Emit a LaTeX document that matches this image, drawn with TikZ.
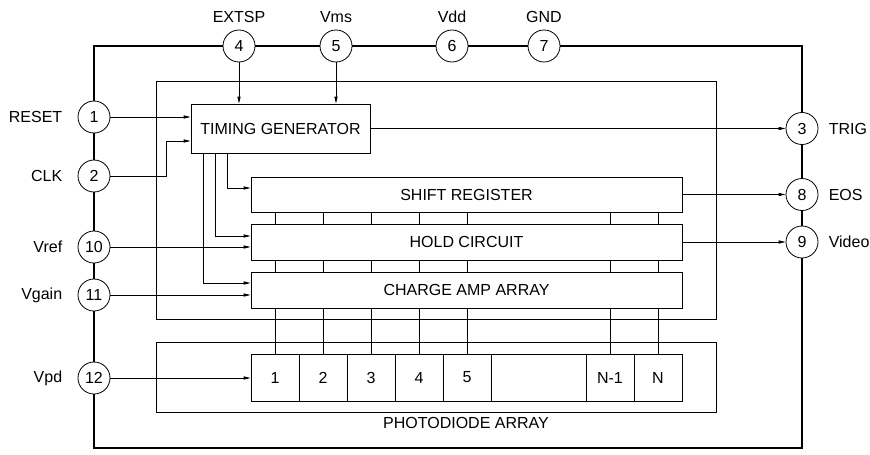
\documentclass[tikz,border=0pt]{standalone}
\usepackage{fontspec}
\setmainfont{Liberation Sans}
\usetikzlibrary{arrows.meta,positioning}

\tikzset{
  pin/.style={circle, draw, fill=white, minimum size=32pt, inner sep=0pt},
  blk/.style={draw, fill=white, inner sep=0pt},
  bus/.style={blk, minimum width=431pt},
  cell/.style={blk, minimum width=48pt, minimum height=47pt},
  sig/.style={-{Triangle[length=7pt,width=3.2pt]}},
  lbl/.style={inner sep=0pt},
}

\begin{document}
\begin{tikzpicture}[x=1pt,y=-1pt,font=\fontsize{16}{19}\selectfont,line width=0.8pt]
        \useasboundingbox (0,0) rectangle (870,455);
        % package outline
        \draw[line width=2.2pt] (94,46) rectangle (802,448);
        % chip area and photodiode area
        \draw (156,81) rectangle (716,319);
        \draw (156,342) rectangle (716,412);
        \node[lbl] (pdlbl) at (466,423) {PHOTODIODE ARRAY};

        % pins
        \node[pin] (p4) at (239,46) {4};
        \node[pin] (p5) at (336,46) {5};
        \node[pin] (p6) at (452,46) {6};
        \node[pin] (p7) at (544,46) {7};
        \node[pin] (p1) at (94,117) {1};
        \node[pin] (p2) at (94,176) {2};
        \node[pin] (p10) at (94,247) {10};
        \node[pin] (p11) at (94,295) {11};
        \node[pin] (p12) at (94,378) {12};
        \node[pin] (p3) at (802,128.5) {3};
        \node[pin] (p8) at (802,194.5) {8};
        \node[pin] (p9) at (802,242) {9};

        % pin names
        \node[lbl, above=7pt of p4] {EXTSP};
        \node[lbl, above=7pt of p5] {Vms};
        \node[lbl, above=7pt of p6] {Vdd};
        \node[lbl, above=7pt of p7] {GND};
        \node[lbl, left=15pt of p1] {RESET};
        \node[lbl, left=15pt of p2] {CLK};
        \node[lbl, left=15pt of p10] {Vref};
        \node[lbl, left=15pt of p11] {Vgain};
        \node[lbl, left=15pt of p12] {Vpd};
        \node[lbl, right=10pt of p3] {TRIG};
        \node[lbl, right=10pt of p8] {EOS};
        \node[lbl, right=10pt of p9] {Video};

        % blocks
        \node[blk, minimum width=179pt, minimum height=49pt] (tg) at (280.5,128.5) {TIMING GENERATOR};
        \node[bus, minimum height=35pt] (sr) at (466.5,194.5) {SHIFT REGISTER};
        \node[bus, minimum height=36pt] (hold) at (466.5,242) {HOLD CIRCUIT};
        \node[bus, minimum height=36pt] (amp) at (466.5,290) {CHARGE AMP ARRAY};

        % photodiode cells
        \foreach \n in {1,...,5}
          \node[cell] (c\n) at (227+48*\n,377.5) {\n};
        \node[blk, minimum width=95pt, minimum height=47pt] (cgap) at (538.5,377.5) {};
        \node[cell] (cN1) at (610,377.5) {N-1};
        \node[cell] (cN) at (658,377.5) {N};

        % per-channel lines
        \foreach \c in {c1,c2,c3,c4,c5,cN1,cN} {
          \draw (sr.south -| \c.north) -- (hold.north -| \c.north);
          \draw (hold.south -| \c.north) -- (amp.north -| \c.north);
          \draw (amp.south -| \c.north) -- (\c.north);
        }

        % inputs
        \draw[sig] (p4.south) -- (p4.south |- tg.north);
        \draw[sig] (p5.south) -- (p5.south |- tg.north);
        \draw[sig] (p1.east) -- (p1.east -| tg.west);
        \coordinate (clkup) at (166,141);
        \draw[sig] (p2.east) -| (clkup) -- (clkup -| tg.west);
        \draw[sig] (p10.east) -- (p10.east -| hold.west);
        \draw[sig] (p11.east) -- (p11.east -| amp.west);
        \draw[sig] (p12.east) -- (p12.east -| c1.west);

        % timing lines
        \draw[sig] ([xshift=37pt]tg.south west) |- ([yshift=6.5pt]sr.west);
        \draw[sig] ([xshift=25pt]tg.south west) |- ([yshift=6pt]hold.west);
        \draw[sig] ([xshift=13pt]tg.south west) |- ([yshift=7pt]amp.west);

        % outputs
        \draw[sig] (tg.east) -- (tg.east -| p3.west);
        \draw[sig] (sr.east) -- (sr.east -| p8.west);
        \draw[sig] (hold.east) -- (hold.east -| p9.west);
      \end{tikzpicture}
\end{document}
